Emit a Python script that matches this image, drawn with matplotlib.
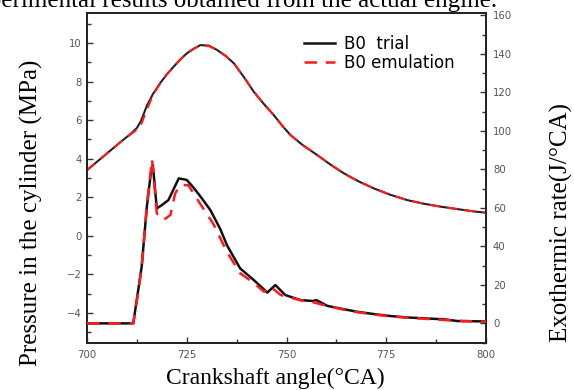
import matplotlib
matplotlib.use("Agg")
import matplotlib.pyplot as plt
from matplotlib.ticker import MultipleLocator

# ---- data ----
p_angle = [700, 703, 706, 709, 711, 712.5, 713.5, 715, 716.5, 718.3, 720, 721.7,
           723.5, 725, 726.8, 728.4, 730.5, 732.6, 734.7, 736.8, 739.3, 741.8,
           744.3, 746.8, 749, 751, 754, 757.7, 761, 764.4, 768, 771.9, 776,
           780.3, 784.5, 788.7, 793, 797.5, 800]
p_trial = [3.41, 3.93, 4.45, 4.97, 5.3, 5.6, 5.95, 6.75, 7.35, 7.92, 8.38, 8.78,
           9.18, 9.47, 9.72, 9.9, 9.88, 9.65, 9.35, 8.96, 8.25, 7.48,
           6.85, 6.27, 5.7, 5.23, 4.72, 4.19, 3.7, 3.24, 2.83, 2.46, 2.13,
           1.85, 1.66, 1.51, 1.38, 1.25, 1.2]
p_emul = [3.41, 3.93, 4.45, 4.97, 5.28, 5.5, 5.75, 6.55, 7.3, 7.9, 8.38, 8.78,
          9.18, 9.47, 9.72, 9.88, 9.86, 9.65, 9.35, 8.96, 8.25, 7.48,
          6.85, 6.27, 5.7, 5.23, 4.72, 4.19, 3.7, 3.24, 2.83, 2.46, 2.13,
          1.85, 1.66, 1.51, 1.38, 1.25, 1.2]

h_angle_trial = [700, 711.6, 712.6, 713.7, 715, 716.0, 716.5, 717.5, 718.8, 720.4,
                 722, 723, 725, 726.5, 728.4, 730.9, 733.4, 735.1, 738.4, 741.8,
                 745.2, 747.2, 749.7, 753.5, 756.6, 757.5, 760.2, 764, 767.8,
                 772, 776.1, 780, 784.5, 789.5, 792.9, 800]
h_trial = [0, 0, 14, 29.4, 60.6, 78, 82.2, 59.7, 61.5, 64,
           71, 75.3, 74.5, 71, 66, 58.9, 49, 40.5, 28.5, 22.5,
           16, 19.9, 14.7, 12.1, 11.6, 12.1, 9.1, 7.5, 6.0,
           4.8, 3.8, 3.1, 2.6, 2.1, 1.2, 1.0]

h_angle_emul = [700, 711.6, 712.6, 713.7, 715, 716.3, 717.5, 719.2, 720.9, 722.1,
                723.4, 725.4, 728.4, 731.7, 735.1, 738.4, 741.8, 744.4, 746,
                748.6, 753.5, 757, 760.2, 764, 767.8, 772, 776.1, 780, 784.5,
                792.9, 800]
h_emul = [0, 0, 13, 29, 61, 85.2, 57.1, 53.7, 56.3, 67.5,
          71.8, 71.8, 62, 51.5, 37, 26, 21, 16.4, 19,
          14.7, 12, 10.8, 9, 7.3, 5.8, 4.6, 3.6, 3.0, 2.4,
          1.3, 0.9]

legend_labels = ["B0  trial", "B0 emulation"]
x_ticks = [700, 725, 750, 775, 800]
left_ticks = [-4, -2, 0, 2, 4, 6, 8, 10]
right_ticks = [0, 20, 40, 60, 80, 100, 120, 140, 160]

# ---- figure ----
W, H = 574, 390
fig = plt.figure(figsize=(W / 100, H / 100), dpi=100)
ax = fig.add_axes([87 / W, 1 - 343 / H, (486 - 87) / W, (343 - 13) / H])
ax2 = ax.twinx()

serif = "Liberation Serif"
tick_color = "#555555"

ax.plot(p_angle, p_trial, color="#222222", lw=1.5, zorder=2)
ax.plot(p_angle, p_emul, color="#ff1a1a", lw=1.5, ls=(0, (5, 3.5)), zorder=3)
ax2.plot(h_angle_trial, h_trial, color="#111111", lw=1.8, zorder=2,
         label=legend_labels[0])
ax2.plot(h_angle_emul, h_emul, color="#ff1a1a", lw=1.8, ls=(0, (5, 3.5)), zorder=3,
         label=legend_labels[1])

ax.set_xlim(700, 800)
ax.set_ylim(-5.57, 11.57)
ax2.set_ylim(-10.2, 161.2)

ax.set_xticks(x_ticks)
ax.set_yticks(left_ticks)
ax2.set_yticks(right_ticks)
ax.xaxis.set_minor_locator(MultipleLocator(12.5))
ax.yaxis.set_minor_locator(MultipleLocator(1))
ax2.yaxis.set_minor_locator(MultipleLocator(10))

for a in (ax, ax2):
    for s in a.spines.values():
        s.set_linewidth(1.3)
        s.set_color("#222222")

ax.tick_params(axis="x", which="both", direction="in", top=False, pad=5,
               labelsize=7.3, labelcolor=tick_color, color="#333333")
ax.tick_params(axis="x", which="major", length=4, width=1)
ax.tick_params(axis="x", which="minor", length=3, width=1)
ax.tick_params(axis="y", which="both", direction="in", right=False, pad=4,
               labelsize=7.3, labelcolor=tick_color, color="#333333")
ax.tick_params(axis="y", which="major", length=4, width=1)
ax.tick_params(axis="y", which="minor", length=3, width=1)
ax2.tick_params(axis="y", which="both", direction="in", left=False, pad=5,
                labelsize=7.3, labelcolor=tick_color, color="#333333")
ax2.tick_params(axis="y", which="major", length=4, width=1)
ax2.tick_params(axis="y", which="minor", length=3, width=1)

# axis titles placed as in the reference
fig.text(275 / W, 1 - 378 / H, "Crankshaft angle(°CA)", family=serif,
         fontsize=17, ha="center", va="center")
fig.text(31 / W, 1 - 213 / H, "Pressure in the cylinder (MPa)", family=serif,
         fontsize=18, ha="center", va="center", rotation=90)
fig.text(561 / W, 1 - 223 / H, "Exothermic rate(J/°CA)", family=serif,
         fontsize=18, ha="center", va="center", rotation=90)

leg = ax2.legend(loc="upper left", bbox_to_anchor=(0.51, 0.975), frameon=False,
                 handlelength=1.85, handletextpad=0.55, labelspacing=0.08,
                 borderpad=0.3, prop=dict(family="DejaVu Sans", size=12))

fig.text(497 / W, 1 - 7.5 / H, "experimental results obtained from the actual engine.",
         ha="right", va="baseline", family=serif, fontsize=18, color="black")

fig.savefig("out.png", dpi=100)
